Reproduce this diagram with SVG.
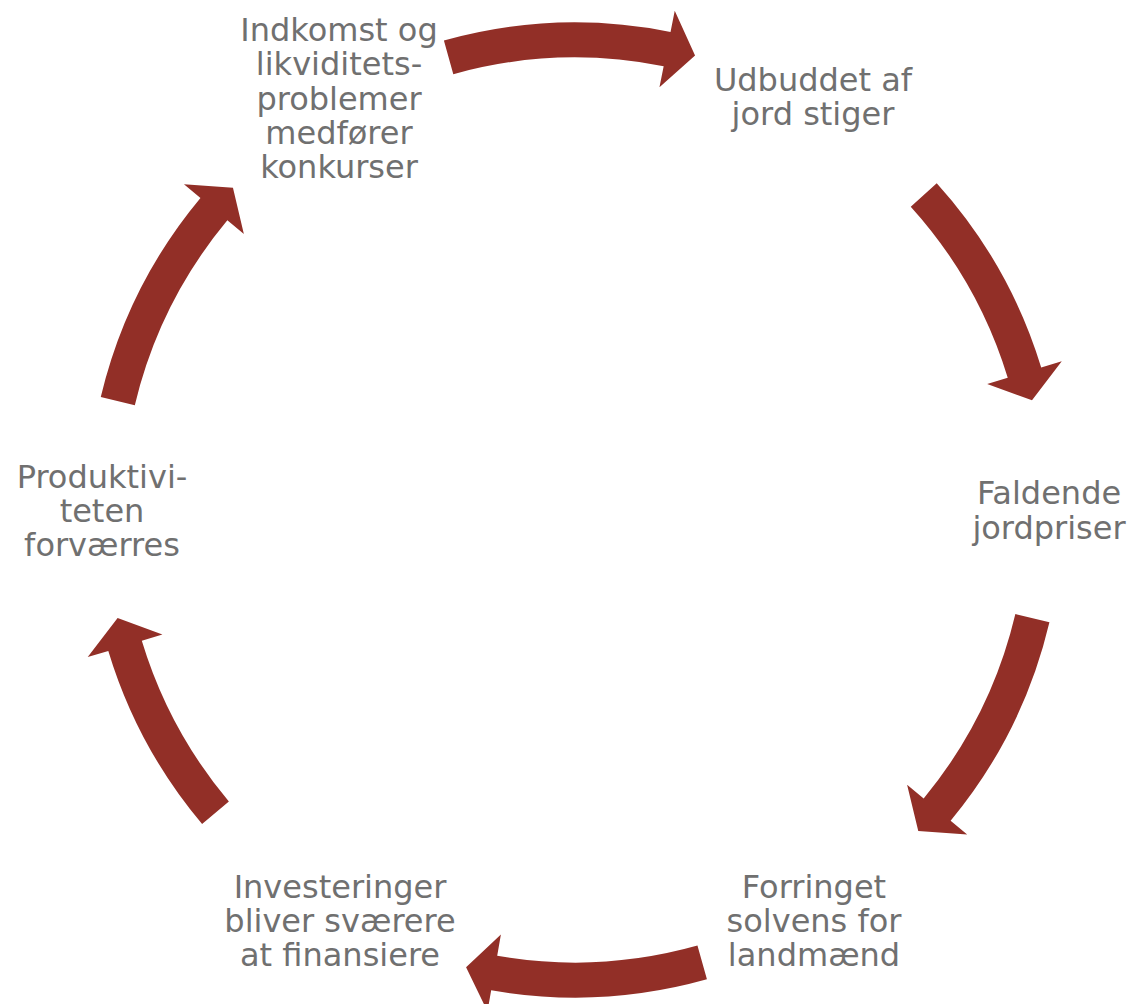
<svg xmlns="http://www.w3.org/2000/svg" width="1130" height="1004" viewBox="0 0 1130 1004">
<style>
.lbl{font-family:"DejaVu Sans","Liberation Sans",sans-serif;font-size:32px;fill:#707070;text-anchor:middle}
.arr{fill:#922F27;stroke:none}
</style>
<rect width="1130" height="1004" fill="#ffffff"/>
<g id="connectors">
<path class="arr" d="M 443.9 40.46 A 487.5 487.5 0 0 1 670.53 31.95 L 674.74 10.87 L 695.06 55.59 L 659.45 87.36 L 663.67 66.27 A 452.5 452.5 0 0 0 453.31 74.17 Z"/>
<path class="arr" d="M 936.72 183.16 A 487.5 487.5 0 0 1 1041.20 367.47 L 1061.76 361.18 L 1032.01 400.28 L 987.17 383.99 L 1007.73 377.70 A 452.5 452.5 0 0 0 910.75 206.63 Z"/>
<path class="arr" d="M 1049.43 622.15 A 487.5 487.5 0 0 1 950.62 820.74 L 967.19 834.45 L 918.27 831.04 L 907.09 784.73 L 923.66 798.43 A 452.5 452.5 0 0 0 1015.36 614.10 Z"/>
<path class="arr" d="M 706.92 979.31 A 487.5 487.5 0 0 1 491.18 990.24 L 487.49 1011.42 L 466.08 967.21 L 500.90 934.58 L 497.20 955.76 A 452.5 452.5 0 0 0 697.45 945.62 Z"/>
<path class="arr" d="M 202.10 824.01 A 487.5 487.5 0 0 1 108.31 650.90 L 87.72 657.12 L 117.61 618.12 L 162.40 634.57 L 141.81 640.79 A 452.5 452.5 0 0 0 228.87 801.46 Z"/>
<path class="arr" d="M 100.77 397.02 A 487.5 487.5 0 0 1 200.46 197.95 L 183.95 184.18 L 232.95 187.66 L 243.87 234.11 L 227.35 220.35 A 452.5 452.5 0 0 0 134.82 405.13 Z"/>
</g>
<g id="node-indkomst">
<text class="lbl" x="339" y="41">Indkomst og</text>
<text class="lbl" x="339" y="75.3">likviditets-</text>
<text class="lbl" x="339" y="109.6">problemer</text>
<text class="lbl" x="339" y="143.9">medfører</text>
<text class="lbl" x="339" y="178.2">konkurser</text>
</g>
<g id="node-udbuddet">
<text class="lbl" x="813" y="91">Udbuddet af</text>
<text class="lbl" x="813" y="125.3">jord stiger</text>
</g>
<g id="node-faldende">
<text class="lbl" x="1049" y="504.3">Faldende</text>
<text class="lbl" x="1049" y="538.6">jordpriser</text>
</g>
<g id="node-forringet">
<text class="lbl" x="814" y="897.7">Forringet</text>
<text class="lbl" x="814" y="932">solvens for</text>
<text class="lbl" x="814" y="966.3">landmænd</text>
</g>
<g id="node-investeringer">
<text class="lbl" x="340" y="897.7">Investeringer</text>
<text class="lbl" x="340" y="932">bliver sværere</text>
<text class="lbl" x="340" y="966.3">at finansiere</text>
</g>
<g id="node-produktivitet">
<text class="lbl" x="102" y="487.7">Produktivi-</text>
<text class="lbl" x="102" y="522">teten</text>
<text class="lbl" x="102" y="556.3">forværres</text>
</g>
</svg>
